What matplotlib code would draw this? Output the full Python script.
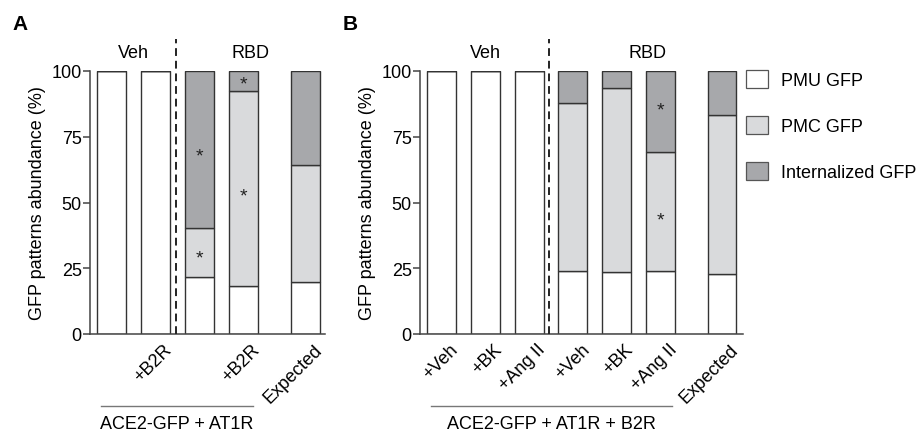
import matplotlib.pyplot as plt
import matplotlib.transforms as mtransforms
from matplotlib.patches import Patch

plt.rcParams['font.family'] = ['Liberation Sans', 'DejaVu Sans']
plt.rcParams['font.size'] = 13

# Panel A: ACE2-GFP + AT1R
a_pos = [0, 1, 2, 3, 4.4]
a_labels = ['', '+B2R', '', '+B2R', 'Expected']
a_pmu = [100, 100, 21.6, 18.4, 19.9]
a_pmc = [0, 0, 18.7, 73.9, 44.4]
a_int = [0, 0, 59.7, 7.7, 35.7]
a_stars = [(2, 69.3), (2, 30.4), (3, 96.6), (3, 54.1)]

# Panel B: ACE2-GFP + AT1R + B2R
b_pos = [0, 1, 2, 3, 4, 5, 6.4]
b_labels = ['+Veh', '+BK', '+Ang II', '+Veh', '+BK', '+Ang II', 'Expected']
b_pmu = [100, 100, 100, 23.8, 23.6, 24.1, 22.7]
b_pmc = [0, 0, 0, 64.1, 70.1, 45.1, 60.5]
b_int = [0, 0, 0, 12.1, 6.3, 30.8, 16.8]
b_stars = [(5, 86.6), (5, 45.0)]

c_pmu = 'white'
c_pmc = '#d9dadc'
c_int = '#a7a8ab'
edge = '#333333'

W, H = 920, 435
fig = plt.figure(figsize=(W / 100, H / 100), dpi=100)


def px_axes(left, right, top, bottom):
    return fig.add_axes([left / W, 1 - bottom / H, (right - left) / W, (bottom - top) / H])


def draw_panel(ax, pos, labels, pmu, pmc, internal, stars, xmax, split, veh_x, rbd_x,
               group_span, group_text):
    width = 0.66
    kw = dict(width=width, edgecolor=edge, linewidth=1.0, zorder=2)
    ax.bar(pos, pmu, color=c_pmu, **kw)
    ax.bar(pos, pmc, bottom=pmu, color=c_pmc, **kw)
    bottom3 = [p + q for p, q in zip(pmu, pmc)]
    ax.bar(pos, internal, bottom=bottom3, color=c_int, **kw)

    for i, y in stars:
        ax.text(pos[i], y - 1.5, '*', ha='center', va='center', fontsize=14, color='#222222')

    ax.set_xlim(-0.49, xmax)
    ax.set_ylim(0, 100)
    ax.set_yticks([0, 25, 50, 75, 100])
    ax.set_ylabel('GFP patterns abundance (%)', labelpad=4)
    ax.spines['top'].set_visible(False)
    ax.spines['right'].set_visible(False)
    for s in ['left', 'bottom']:
        ax.spines[s].set_color('#444444')
        ax.spines[s].set_linewidth(1.1)
    ax.tick_params(axis='y', length=5, width=1.1, color='#444444', pad=1)
    ax.tick_params(axis='x', length=0, pad=9)

    ax.set_xticks(pos)
    ax.set_xticklabels(labels, rotation=45, ha='right', va='center', rotation_mode='anchor')
    offset = mtransforms.ScaledTranslation(14 / 100, 0, fig.dpi_scale_trans)
    for lab in ax.get_xticklabels():
        lab.set_transform(lab.get_transform() + offset)

    # dashed separator between vehicle and RBD
    ax.plot([split, split], [0, 112], color='#222222', linestyle=(0, (4, 2.5)),
            linewidth=1.4, clip_on=False, zorder=3)

    trans = mtransforms.blended_transform_factory(ax.transData, ax.transAxes)
    ax.text(veh_x, 1.072, 'Veh', transform=trans, ha='center', va='center')
    ax.text(rbd_x, 1.072, 'RBD', transform=trans, ha='center', va='center')

    ax.plot(group_span, [-0.274, -0.274], transform=trans, color='#777777',
            linewidth=1.0, clip_on=False)
    ax.text(sum(group_span) / 2, -0.34, group_text, transform=trans,
            ha='center', va='center')


ax_a = px_axes(90, 325, 72, 335)
draw_panel(ax_a, a_pos, a_labels, a_pmu, a_pmc, a_int, a_stars, 4.85, 1.47,
           0.5, 3.15, [-0.25, 3.22], 'ACE2-GFP + AT1R')

ax_b = px_axes(420, 743, 72, 335)
draw_panel(ax_b, b_pos, b_labels, b_pmu, b_pmc, b_int, b_stars, 6.88, 2.46,
           1.0, 4.7, [-0.25, 5.25], 'ACE2-GFP + AT1R + B2R')

fig.text(12 / W, 1 - 25 / H, 'A', fontsize=15, fontweight='bold', va='center')
fig.text(343 / W, 1 - 25 / H, 'B', fontsize=15, fontweight='bold', va='center')

handles = [
    Patch(facecolor=c_pmu, edgecolor='#555555', linewidth=0.9, label='PMU GFP'),
    Patch(facecolor=c_pmc, edgecolor='#555555', linewidth=0.9, label='PMC GFP'),
    Patch(facecolor=c_int, edgecolor='#555555', linewidth=0.9, label='Internalized GFP'),
]
fig.legend(handles=handles, loc='upper left', bbox_to_anchor=(746 / W, 1 - 71 / H),
           bbox_transform=fig.transFigure, frameon=False, borderpad=0, borderaxespad=0,
           handlelength=1.2, handleheight=1.15, handletextpad=0.75, labelspacing=1.5,
           fontsize=13)

fig.savefig('out.png', dpi=100)
